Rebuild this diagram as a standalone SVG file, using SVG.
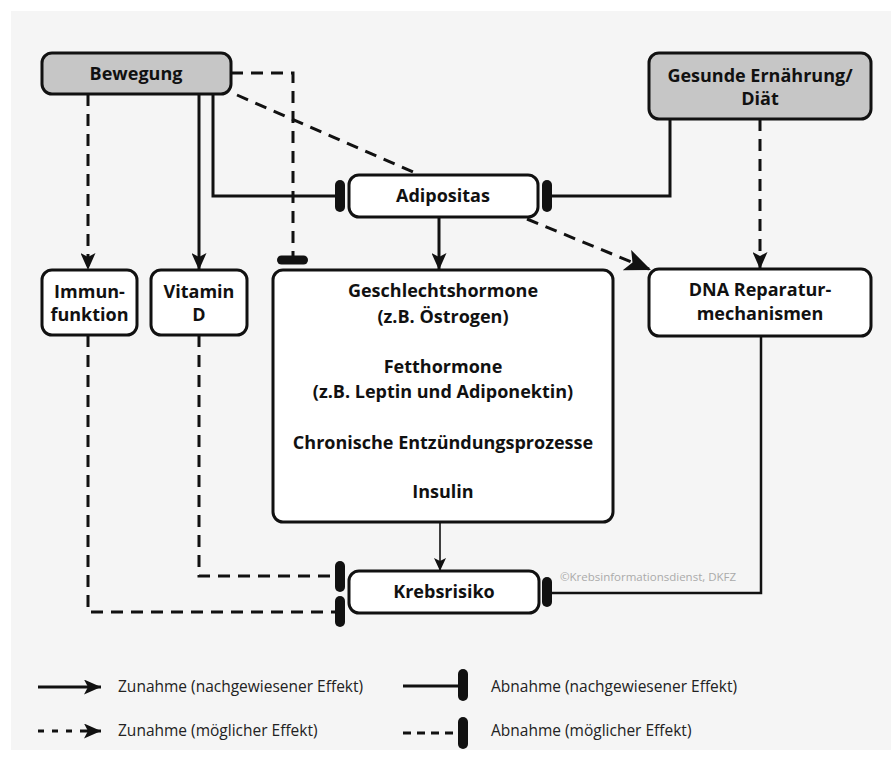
<svg xmlns="http://www.w3.org/2000/svg" width="891" height="758" viewBox="0 0 891 758">
<defs>
<style>
.box{fill:#fff;stroke:#111;stroke-width:3}
.src{fill:#c6c6c6;stroke:#111;stroke-width:3}
.t{font-family:"Open Sans","Noto Sans",sans-serif;font-weight:700;font-size:18px;fill:#111;text-anchor:middle}
.ln{fill:none;stroke:#111;stroke-width:3}
.dash{stroke-dasharray:12 8}
.bar{fill:#111}
.leg{font-family:"Open Sans","Noto Sans",sans-serif;font-size:15.5px;fill:#222}
</style>
<marker id="arr" markerUnits="userSpaceOnUse" markerWidth="17" markerHeight="15" refX="17" refY="7.5" orient="auto">
<path d="M0,0 L17,7.5 L0,15 L4,7.5 Z" fill="#111"/>
</marker>
<marker id="arrBig" markerUnits="userSpaceOnUse" markerWidth="26" markerHeight="22" refX="26" refY="11" orient="auto">
<path d="M0,0 L26,11 L0,22 L6,11 Z" fill="#111"/>
</marker>
<marker id="arrSm" markerUnits="userSpaceOnUse" markerWidth="13" markerHeight="12" refX="13" refY="6" orient="auto">
<path d="M0,0 L13,6 L0,12 L3,6 Z" fill="#111"/>
</marker>
</defs>
<rect x="0" y="0" width="891" height="758" fill="#fff"/>
<rect x="11" y="11" width="880" height="739" fill="#f5f5f5"/>

<g id="connectors">
<path class="ln dash" d="M88,94 V270" marker-end="url(#arr)"/>
<path class="ln" d="M199,94 V270" marker-end="url(#arr)"/>
<path class="ln" d="M213,94 V196 H336"/>
<rect class="bar" x="335" y="180" width="10" height="32" rx="5"/>
<path class="ln dash" d="M231,73 H293 V256"/>
<rect class="bar" x="277" y="255.5" width="31" height="9" rx="4.5"/>
<path class="ln dash" d="M237,95 L420,175"/>
<path class="ln" d="M670,119 V196 H550"/>
<rect class="bar" x="542" y="180" width="10" height="32" rx="5"/>
<path class="ln dash" d="M760,119 V269" marker-end="url(#arr)"/>
<path class="ln" d="M439,217 V270" marker-end="url(#arr)"/>
<path class="ln dash" d="M527,219 L651,270" marker-end="url(#arrBig)"/>
<path fill="none" stroke="#111" stroke-width="1.6" d="M440,522 V571" marker-end="url(#arrSm)"/>
<path class="ln dash" d="M199,335 V576 H336"/>
<rect class="bar" x="335" y="561" width="10" height="31" rx="5"/>
<path class="ln dash" d="M88,335 V612 H336"/>
<rect class="bar" x="335" y="596" width="10" height="31" rx="5"/>
<path fill="none" stroke="#111" stroke-width="2.5" d="M761,336 V593 H550"/>
<rect class="bar" x="542" y="577" width="10" height="30" rx="5"/>
</g>

<g id="bewegung">
<rect class="src" x="42" y="53" width="189" height="41" rx="10"/>
<text class="t" x="136" y="80">Bewegung</text>
</g>
<g id="ernaehrung">
<rect class="src" x="649" y="53" width="222" height="66" rx="10"/>
<text class="t" x="760" y="82">Gesunde Ernährung/</text>
<text class="t" x="760" y="105">Diät</text>
</g>
<g id="adipositas">
<rect class="box" x="349" y="175" width="189" height="42" rx="10"/>
<text class="t" x="443" y="202">Adipositas</text>
</g>
<g id="immunfunktion">
<rect class="box" x="42" y="270" width="95" height="65" rx="10"/>
<text class="t" x="89.5" y="298">Immun-</text>
<text class="t" x="89.5" y="321">funktion</text>
</g>
<g id="vitamind">
<rect class="box" x="151" y="270" width="96" height="65" rx="10"/>
<text class="t" x="199" y="298">Vitamin</text>
<text class="t" x="199" y="321">D</text>
</g>
<g id="hormone">
<rect class="box" x="273" y="270" width="340" height="252" rx="10"/>
<text class="t" x="443" y="297">Geschlechtshormone</text>
<text class="t" x="443" y="323">(z.B. Östrogen)</text>
<text class="t" x="443" y="373">Fetthormone</text>
<text class="t" x="443" y="398">(z.B. Leptin und Adiponektin)</text>
<text class="t" x="443" y="449">Chronische Entzündungsprozesse</text>
<text class="t" x="443" y="498">Insulin</text>
</g>
<g id="dna">
<rect class="box" x="649" y="269" width="222" height="67" rx="10"/>
<text class="t" x="760" y="296">DNA Reparatur-</text>
<text class="t" x="760" y="320">mechanismen</text>
</g>
<g id="krebsrisiko">
<rect class="box" x="349" y="571" width="190" height="42" rx="10"/>
<text class="t" x="444" y="598">Krebsrisiko</text>
</g>
<text x="560" y="581" font-family="Open Sans, Noto Sans, sans-serif" font-size="11.5" fill="#aaa">©Krebsinformationsdienst, DKFZ</text>

<g id="legend">
<path class="ln" d="M38,687 H101" marker-end="url(#arr)"/>
<text class="leg" x="118" y="692">Zunahme (nachgewiesener Effekt)</text>
<path class="ln" d="M403,686 H460"/>
<rect class="bar" x="458" y="669" width="10" height="32" rx="5"/>
<text class="leg" x="491" y="692">Abnahme (nachgewiesener Effekt)</text>
<path class="ln" stroke-dasharray="6 8" d="M38,731 H88"/>
<path class="ln" d="M86,731 H101" marker-end="url(#arr)"/>
<text class="leg" x="118" y="736">Zunahme (möglicher Effekt)</text>
<path class="ln" stroke-dasharray="8 6" d="M403,733 H460"/>
<rect class="bar" x="458" y="717" width="10" height="32" rx="5"/>
<text class="leg" x="491" y="736">Abnahme (möglicher Effekt)</text>
</g>
</svg>
